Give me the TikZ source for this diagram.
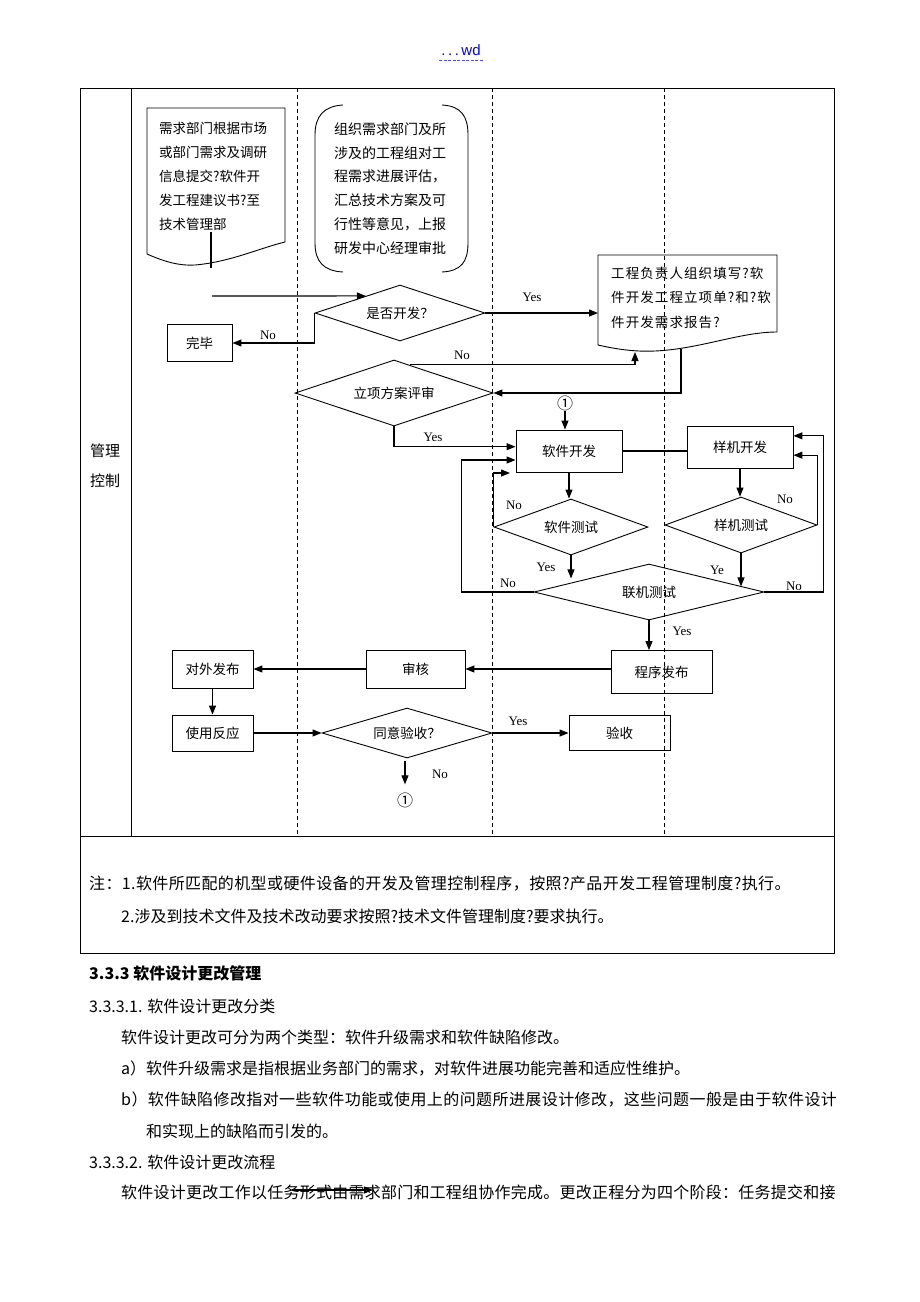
\documentclass[tikz,border=0pt]{standalone}
\usepackage{fontspec}
\setmainfont{Liberation Serif}
\setsansfont{Liberation Sans}
\newfontfamily\cjk{Noto Sans CJK SC}
\newfontfamily\cjkwide[LetterSpace=8]{Noto Sans CJK SC}
\newfontfamily\cjkna[LetterSpace=2.4]{Noto Sans CJK SC}
\newfontfamily\cjknb[LetterSpace=2.6]{Noto Sans CJK SC}
\newfontfamily\cjknc[LetterSpace=1.5]{Noto Sans CJK SC}
\usetikzlibrary{shapes.geometric,calc,arrows.meta}
\begin{document}
\begin{tikzpicture}[x=1pt,y=-1pt,
  every node/.style={inner sep=0pt},
  zh/.style={font=\cjk\fontsize{13.5}{16}\selectfont},
  box/.style={draw,line width=0.9pt,zh},
  dia/.style={draw,diamond,aspect=3,line width=0.9pt,zh},
  arr/.style={line width=1.1pt,-{Triangle[length=9pt,width=7pt]}},
  ln/.style={line width=1.1pt},
  lbl/.style={font=\fontsize{13}{15}\selectfont},
  lane/.style={line width=0.6pt,dash pattern=on 4pt off 3pt},
  frame/.style={line width=0.9pt},
  body/.style={anchor=west,font=\cjk\fontsize{16}{18}\selectfont}
]
\useasboundingbox (0,0) rectangle (920,1302);
\fill[white] (0,0) rectangle (920,1302);

% header
\node[text=blue,font=\sffamily\fontsize{15}{17}\selectfont] (hdr) at (461,50) {.\,.\,.\,wd};
\coordinate (ul1) at (439,60);
\coordinate (ul2) at (484,60);
\draw[blue!70,line width=0.7pt,dash pattern=on 3pt off 1.5pt] (ul1) -- (ul2);

% table frame
\draw[frame] (80,88) rectangle (834,953);
\draw[frame] (80,836) -- (834,836);
\draw[frame] (131,88) -- (131,836);
\foreach \x in {297,492,664} \draw[lane] (\x,88) -- (\x,836);

\node[font=\cjk\fontsize{15}{17}\selectfont] (m1) at (105,451) {管理};
\node[font=\cjk\fontsize{15}{17}\selectfont] (m2) at (105,481) {控制};

% document 1
\draw[frame] (147,108) -- (285,108) -- (285,242)
  .. controls (260,248) and (230,262) .. (195,265)
  .. controls (180,266) and (165,262) .. (147,254) -- cycle;
\node[anchor=west,align=left,font=\cjk\fontsize{13.5}{24}\selectfont] (doc1) at (159,176)
  {需求部门根据市场\\或部门需求及调研\\信息提交?软件开\\发工程建议书?至\\技术管理部};
\coordinate (d1s) at (211,232);
\coordinate (d1e) at (211,268);
\draw[ln] (d1s) -- (d1e);

% bracket shape
\draw[frame] (343,105) .. controls (324,106) and (315,116) .. (315,135) -- (315,243)
  .. controls (315,262) and (324,271) .. (343,272);
\draw[frame] (442,105) .. controls (461,106) and (468,116) .. (468,135) -- (468,243)
  .. controls (468,262) and (461,271) .. (442,272);
\node[anchor=west,align=left,font=\cjk\fontsize{14}{23.8}\selectfont] (br) at (334,188.5)
  {组织需求部门及所\\涉及的工程组对工\\程需求进展评估，\\汇总技术方案及可\\行性等意见，上报\\研发中心经理审批};

% decision 1
\node[dia,minimum width=170,minimum height=56] (q1) at (400,313) {是否开发？};
\coordinate (in1) at (212,296);
\draw[arr] (in1) -- ($(q1.west)!0.6!(q1.north)$);
\node[box,minimum width=65,minimum height=37] (wb) at (199.5,343) {完毕};
\draw[arr] (q1.west) |- (wb.east);
\node[lbl] (l1) at (268,335) {No};

% document 2
\draw[frame] (598,255) -- (777,255) -- (777,332)
  .. controls (740,332) and (700,349) .. (655,351)
  .. controls (635,352) and (615,349) .. (598,345) -- cycle;
\node[anchor=west,align=left,font=\cjkwide\fontsize{13.5}{24.5}\selectfont] (doc2) at (611,297.5)
  {工程负责人组织填写?软\\件开发工程立项单?和?软\\件开发需求报告?};
\coordinate (d2l) at (598,313);
\draw[arr] (q1.east) -- (d2l);
\node[lbl] (l2) at (532,297) {Yes};

% decision 2
\node[dia,minimum width=198,minimum height=66] (q2) at (394,393) {立项方案评审};
\coordinate (d2b) at (635,352);
\draw[arr] ($(q2.north)!0.16!(q2.east)$) -| (d2b);
\node[lbl] (l3) at (462,355) {No};
\coordinate (d2o) at (681,349);
\draw[arr] (d2o) |- (q2.east);

% software development
\node[font=\cjk\fontsize{16}{18}\selectfont] (c1) at (565,403) {①};
\node[box,minimum width=106,minimum height=42] (sw) at (569,451) {软件开发};
\draw[arr] (c1.south) -- (c1.south |- sw.north);
\draw[arr] (q2.south) |- ($(sw.north west)!0.4!(sw.south west)$);
\node[lbl] (l4) at (433,437) {Yes};

\node[dia,minimum width=154,minimum height=56] (q3) at (571,527) {软件测试};
\draw[arr] (sw.south) -- (sw.south |- q3.north);
\coordinate (n3) at (510,473);
\draw[arr] (q3.west) |- (n3);
\node[lbl] (l5) at (514,505) {No};

\node[dia,minimum width=230,minimum height=56] (q5) at (649,592) {联机测试};
\draw[arr] (q3.south) -- ++(0,23);
\node[lbl] (l6) at (546,567) {Yes};
\draw[arr] (q5.west) -- ++(-72,0) |- ($(sw.north west)!0.71!(sw.south west)$);
\node[lbl] (l7) at (508,583) {No};

% prototype
\node[box,minimum width=106,minimum height=42] (pd) at (740,447) {样机开发};
\draw[ln] (sw.east) -- (sw.east -| pd.west);
\node[dia,minimum width=152,minimum height=56] (q4) at (741,525) {样机测试};
\draw[arr] (pd.south) -- (pd.south |- q4.north);
\draw[arr] (q4.east) |- ($(pd.north east)!0.69!(pd.south east)$);
\node[lbl] (l8) at (785,499) {No};
\draw[arr] (q4.south) -- ++(0,33);
\node[lbl] (l9) at (717,570) {Ye};
\draw[arr] (q5.east) -- ++(59,0) |- ($(pd.north east)!0.24!(pd.south east)$);
\node[lbl] (l10) at (794,586) {No};

% release
\node[box,minimum width=101,minimum height=43] (pf) at (661.5,672) {程序发布};
\draw[arr] (q5.south) -- (q5.south |- pf.north);
\node[lbl] (l11) at (682,631) {Yes};
\node[box,minimum width=99,minimum height=38] (sh) at (415.5,669) {审核};
\draw[arr] (sh.east -| pf.west) -- (sh.east);
\node[box,minimum width=81,minimum height=38] (dw) at (212.5,669) {对外发布};
\draw[arr] (sh.west) -- (dw.east);
\node[box,minimum width=81,minimum height=36] (sy) at (212.5,733) {使用反应};
\draw[arr] (dw.south) -- (sy.north);
\node[dia,minimum width=170,minimum height=50] (q6) at (407,733) {同意验收？};
\draw[arr] (sy.east) -- (q6.west);
\node[box,minimum width=101,minimum height=35] (ys) at (619.5,733) {验收};
\draw[arr] (q6.east) -- (ys.west);
\node[lbl] (l12) at (518,721) {Yes};
\node[font=\cjk\fontsize{16}{18}\selectfont] (c2) at (405,800) {①};
\draw[arr] ($(q6.south)+(-2,3)$) -- ($(c2.north)+(0,-8)$);
\node[lbl] (l13) at (440,774) {No};

% notes
\node[body,font=\cjkna\fontsize{16}{18}\selectfont] (n1) at (89,884) {注：1.软件所匹配的机型或硬件设备的开发及管理控制程序，按照?产品开发工程管理制度?执行。};
\node[body] (n2) at (121,916) {2.涉及到技术文件及技术改动要求按照?技术文件管理制度?要求执行。};

% body text
\node[body,font=\cjk\bfseries\fontsize{16}{18}\selectfont] (h1) at (89,973) {3.3.3 软件设计更改管理};
\node[body] (h2) at (89,1006) {3.3.3.1. 软件设计更改分类};
\node[body] (p1) at (121,1037) {软件设计更改可分为两个类型：软件升级需求和软件缺陷修改。};
\node[body] (p2) at (121,1068) {a）软件升级需求是指根据业务部门的需求，对软件进展功能完善和适应性维护。};
\node[body,font=\cjknb\fontsize{16}{18}\selectfont] (p3) at (121,1099) {b）软件缺陷修改指对一些软件功能或使用上的问题所进展设计修改，这些问题一般是由于软件设计};
\node[body] (p4) at (146,1131) {和实现上的缺陷而引发的。};
\node[body] (h3) at (89,1162) {3.3.3.2. 软件设计更改流程};
\node[body,font=\cjknc\fontsize{16}{18}\selectfont] (p5) at (121,1192) {软件设计更改工作以任务形式由需求部门和工程组协作完成。更改正程分为四个阶段：任务提交和接};
\coordinate (sa1) at (292,1190);
\coordinate (sa2) at (373,1190);
\draw[arr] (sa1) -- (sa2);
\end{tikzpicture}
\end{document}
